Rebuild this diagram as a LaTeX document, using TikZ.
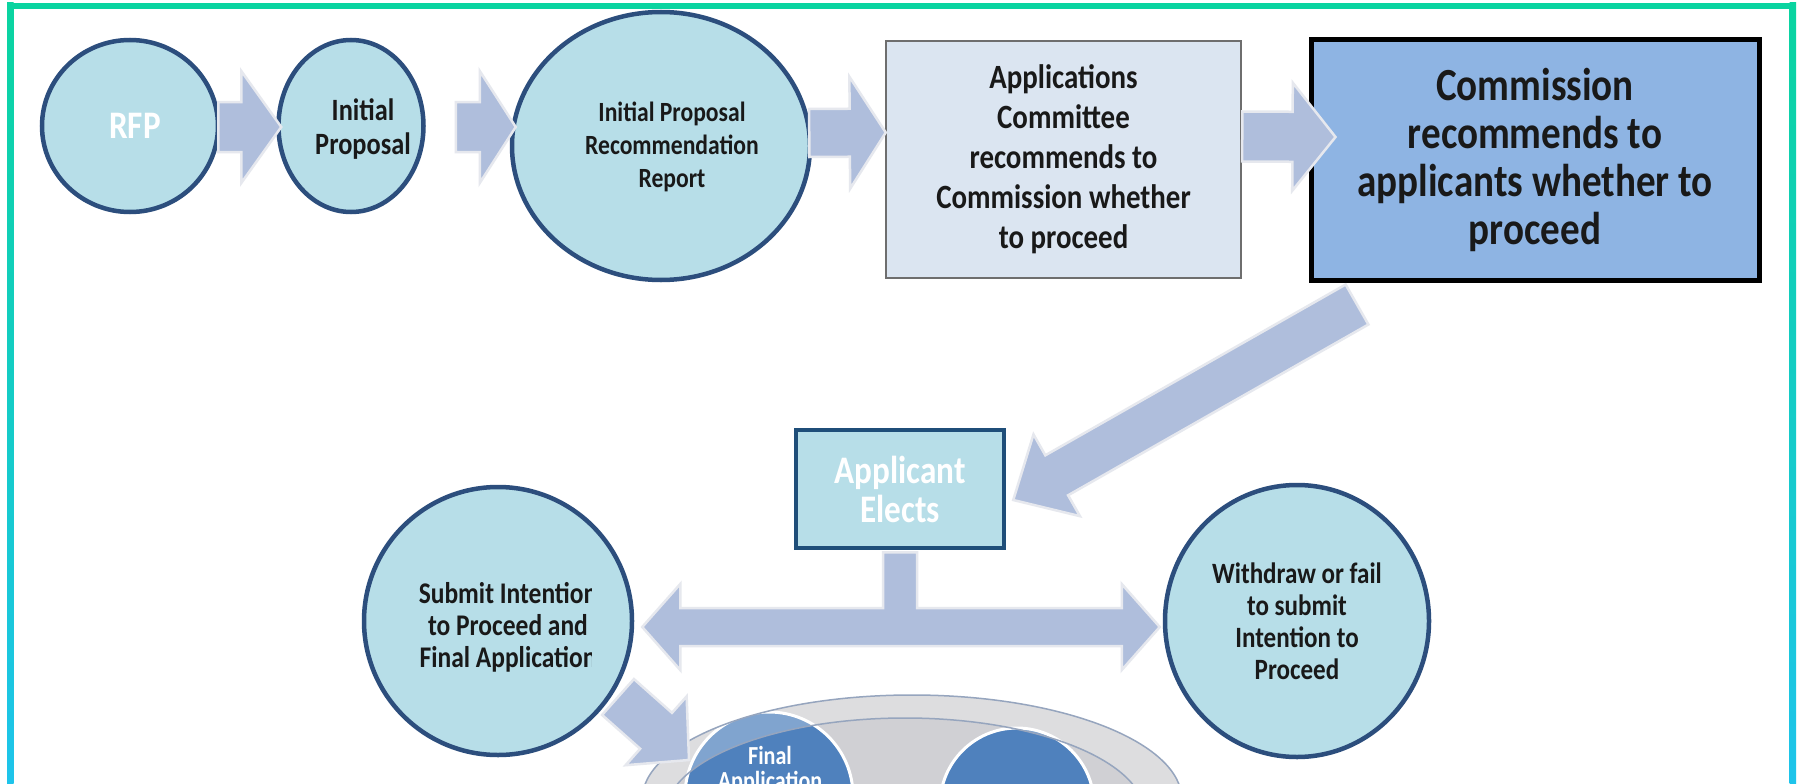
\documentclass[tikz,border=0pt]{standalone}
\usepackage{fontspec}
\setmainfont{Carlito}[FakeStretch=0.85]
\usetikzlibrary{calc,shapes.geometric}
\definecolor{circfill}{RGB}{183,222,232}
\definecolor{circedge}{RGB}{44,78,125}
\definecolor{arrfill}{RGB}{175,190,220}
\definecolor{arredge}{RGB}{230,232,238}
\definecolor{appfill}{RGB}{219,229,241}
\definecolor{appedge}{RGB}{110,110,110}
\definecolor{comfill}{RGB}{142,180,227}
\definecolor{aeedge}{RGB}{31,78,121}
\definecolor{darkcirc}{RGB}{79,129,189}
\definecolor{ringgray}{RGB}{208,208,212}
\definecolor{ringline}{RGB}{150,165,190}
\definecolor{ftop}{RGB}{10,212,160}
\definecolor{fbot}{RGB}{30,196,235}
\definecolor{txt}{RGB}{25,25,25}
\newcommand{\blockarrow}[5]{%
  \coordinate (baA) at (#1);
  \coordinate (baB) at (#2);
  \coordinate (baH) at ($(baB)!#5!(baA)$);
  \path[blockarr] ($(baA)!#3!90:(baB)$) -- ($(baH)!#3!90:(baB)$) -- ($(baH)!#4!90:(baB)$) -- (baB)
     -- ($(baH)!#4!-90:(baB)$) -- ($(baH)!#3!-90:(baB)$) -- ($(baA)!#3!-90:(baB)$) -- cycle;
}
\begin{document}
\begin{tikzpicture}[x=1pt,y=-1pt,
  circ/.style={ellipse, draw=circedge, line width=4.5pt, fill=circfill, inner sep=0pt, align=center, text=txt},
  blockarr/.style={fill=arrfill, draw=arredge, line width=2.5pt, line join=miter},
  darkc/.style={circle, fill=darkcirc, draw=white, line width=3pt, inner sep=0pt},
  label/.style={align=center, text=txt, inner sep=0pt},
]
\useasboundingbox (0,0) rectangle (1801,784);
\clip (0,0) rectangle (1801,784);
\fill[white] (0,0) rectangle (1801,784);

% bottom ring with dark circles
\fill[ringgray] (912,800) ellipse [x radius=270, y radius=105];
\node[darkc, minimum size=168pt] (fa) at (769,796) {};
\node[darkc, minimum size=154pt] (fb) at (1017,805) {};
\fill[white, opacity=0.28, even odd rule] (912,800) ellipse [x radius=270, y radius=105] (905,815) ellipse [x radius=240, y radius=97];
\draw[ringline, line width=1.5pt] (912,800) ellipse [x radius=270, y radius=105];
\draw[ringline, line width=1.5pt] (905,815) ellipse [x radius=240, y radius=97];
\node[text=white, align=center, font=\fontsize{26}{25}\selectfont\bfseries] (fatext) at (770,770) {Final\\Application};

% top row
\node[circ, minimum width=176pt, minimum height=172pt] (rfp) at (130,126) {};
\node[label, text=white, font=\fontsize{39}{40}\selectfont\bfseries] (rfptext) at ($(rfp.center)+(5,0)$) {RFP};
\node[circ, minimum width=145pt, minimum height=172pt] (ip) at (351,126) {};
\node[label, font=\fontsize{31}{34}\selectfont\bfseries] (iptext) at ($(ip.center)+(12,3)$) {Initial\\Proposal};
\node[circ, minimum width=298pt, minimum height=268pt] (iprr) at (661,146) {};
\node[label, font=\fontsize{27.8}{33}\selectfont\bfseries] (iprrtext) at ($(iprr.center)+(11,1)$) {Initial Proposal\\Recommendation\\Report};
\node[rectangle, draw=appedge, line width=2.5pt, fill=appfill, minimum width=355pt, minimum height=237pt, align=center, text=txt, font=\fontsize{34}{40}\selectfont\bfseries] (apc) at (1063.5,159.5) {Applications\\Committee\\recommends to\\Commission whether\\to proceed};
\node[rectangle, draw=black, line width=5pt, fill=comfill, minimum width=448pt, minimum height=240pt, align=center, text=txt, font=\fontsize{46}{48}\selectfont\bfseries] (com) at (1535,160) {Commission\\recommends to\\applicants whether to\\proceed};

% middle
\node[rectangle, draw=aeedge, line width=4.5pt, fill=circfill, minimum width=208pt, minimum height=118pt, align=center, text=white, font=\fontsize{39}{39}\selectfont\bfseries] (ae) at (900,489) {Applicant\\Elects};
\node[circ, minimum width=268pt, minimum height=268pt] (submit) at (498,621) {};
\begin{scope}
\clip (360,560) rectangle (591,690);
\node[label, font=\fontsize{30}{32}\selectfont\bfseries] (sitext) at (508,627) {Submit Intention\\to Proceed and\\Final Application};
\end{scope}
\node[circ, minimum width=264pt, minimum height=272pt, font=\fontsize{29.5}{32}\selectfont\bfseries] (wd) at (1297,621) {Withdraw or fail\\to submit\\Intention to\\Proceed};

% connectors
\blockarrow{$(rfp.east)+(-2,1)$}{$(ip.west)+(5,1)$}{25pt}{56pt}{40pt}
\blockarrow{$(ip.east)+(30,1)$}{$(iprr.west)+(6,-19)$}{25pt}{56pt}{36pt}
\blockarrow{$(iprr.east)+(-3,-13)$}{$(apc.west)+(1,-27)$}{24pt}{56pt}{36pt}
\blockarrow{$(apc.east)+(0,-23)$}{$(com.west)+(27,-23)$}{25pt}{54pt}{43pt}
\blockarrow{$(com.south)+(-178,22)$}{$(ae.east)+(7,11)$}{23pt}{47pt}{50pt}
\blockarrow{$(submit.center)+(120,76)$}{$(fa.center)+(-80,-36)$}{24pt}{46pt}{44pt}

% T connector with double arrow
\coordinate (tL) at ($(submit.east)+(8,6)$);
\coordinate (tR) at ($(wd.west)+(-3,6)$);
\coordinate (stL) at ($(ae.south)+(-17,2)$);
\coordinate (stR) at ($(ae.south)+(17,2)$);
\path (stL |- tL) coordinate (jL) (stR |- tL) coordinate (jR);
\path[blockarr] (stL) -- (stR) -- ($(jR)+(0,-19)$) -- ($(tR)+(-38,-19)$) -- ($(tR)+(-38,-43)$) -- (tR)
  -- ($(tR)+(-38,43)$) -- ($(tR)+(-38,19)$) -- ($(tL)+(38,19)$) -- ($(tL)+(38,43)$) -- (tL)
  -- ($(tL)+(38,-43)$) -- ($(tL)+(38,-19)$) -- ($(jL)+(0,-19)$) -- cycle;

% frame
\shade[top color=ftop, bottom color=fbot] (7,3) rectangle (13.5,784);
\shade[top color=ftop, bottom color=fbot] (1789.5,3) rectangle (1796,784);
\fill[ftop] (7,3) rectangle (1796,9);
\end{tikzpicture}
\end{document}
